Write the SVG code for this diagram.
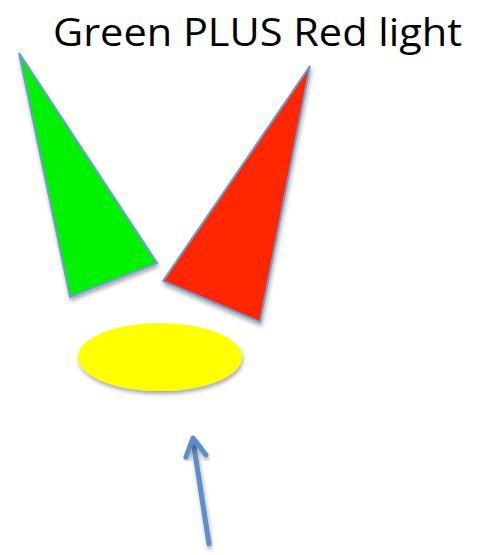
<svg xmlns="http://www.w3.org/2000/svg" width="481" height="555" viewBox="0 0 481 555">
<defs>
<filter id="sh" x="-20%" y="-20%" width="140%" height="140%">
<feDropShadow dx="1" dy="3" stdDeviation="2" flood-color="#000" flood-opacity="0.35"/>
</filter>
<style>
.tri{stroke:#6f9bd1;stroke-width:2;stroke-linejoin:miter;filter:url(#sh)}
.lbl{font-family:"Open Sans","Liberation Sans",sans-serif;font-size:38px;fill:#000}
.arr{stroke:#5b8ec9;stroke-width:5;fill:none;stroke-linecap:round;stroke-linejoin:round;filter:url(#sh)}
</style>
</defs>
<rect width="481" height="555" fill="#fff"/>
<text class="lbl" x="53" y="46" textLength="409" lengthAdjust="spacingAndGlyphs">Green PLUS Red light</text>
<g id="green">
<polygon class="tri" fill="#00f200" points="19,53 157,263 70,297"/>
</g>
<g id="red">
<polygon class="tri" fill="#ff2600" points="310,66 163,281 260,322"/>
</g>
<g id="yellow">
<ellipse cx="160" cy="357" rx="82" ry="34" fill="#ffff00" filter="url(#sh)"/>
</g>
<g id="connectors">
<line class="arr" x1="209" y1="544" x2="193" y2="440"/>
<polyline class="arr" points="186,457 193,438 206,455"/>
</g>
</svg>
